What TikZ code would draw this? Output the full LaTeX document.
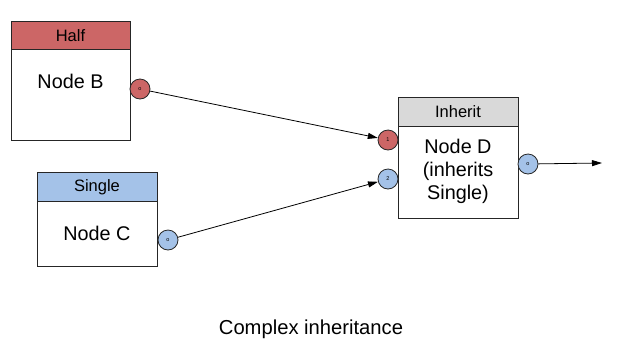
\documentclass[tikz,border=0pt]{standalone}
\usepackage{fontspec}
\setmainfont{Liberation Sans}
\usetikzlibrary{arrows.meta}
\definecolor{hred}{RGB}{204,102,102}
\definecolor{hblue}{RGB}{164,194,232}
\definecolor{hgrey}{RGB}{217,217,217}
\tikzset{
  body/.style={draw=black!85, line width=0.9pt, fill=white},
  header/.style={draw=black!85, line width=0.9pt},
  hdtext/.style={font=\fontsize{16.5}{18}\selectfont},
  bdtext/.style={font=\fontsize{19.8}{23}\selectfont, align=center},
  port/.style={circle, draw=black!85, line width=0.8pt, minimum size=20pt, inner sep=0pt, font=\fontsize{5.5}{6}\selectfont},
  link/.style={draw=black, line width=0.8pt, -{Triangle[length=10pt,width=6pt]}}
}
\begin{document}
\begin{tikzpicture}[x=1pt,y=-1pt]
\useasboundingbox (0,0) rectangle (618,357);
% Node B
\draw[body] (11,21) rectangle (130,140);
\draw[header, fill=hred] (11,21) rectangle (130,49);
\node[hdtext] (hB) at (70.5,35.5) {Half};
\node[bdtext] (nB) at (70.5,81) {Node B};
\node[port, fill=hred] (pB) at (140,89) {o};
% Node C
\draw[body] (37,172) rectangle (157,266);
\draw[header, fill=hblue] (37,172) rectangle (157,201);
\node[hdtext] (hC) at (97,187) {Single};
\node[bdtext] (nC) at (97,233) {Node C};
\node[port, fill=hblue] (pC) at (168,240) {o};
% Node D
\draw[body] (398,97) rectangle (518,218);
\draw[header, fill=hgrey] (398,97) rectangle (518,126);
\node[hdtext] (hD) at (458,112) {Inherit};
\node[bdtext] (nD) at (458,171) {Node D\\(inherits\\Single)};
\node[port, fill=hred] (pD1) at (388,140) {1};
\node[port, fill=hblue] (pD2) at (388,179) {2};
\node[port, fill=hblue] (pDo) at (528,164) {o};
\coordinate (out) at (602,163);
% connectors
\draw[link] (pB) -- (pD1);
\draw[link] (pC) -- (pD2);
\draw[link] (pDo) -- (out);
% caption
\node[font=\fontsize{20.2}{23}\selectfont] (cap) at (311,329) {Complex inheritance};
\end{tikzpicture}
\end{document}
